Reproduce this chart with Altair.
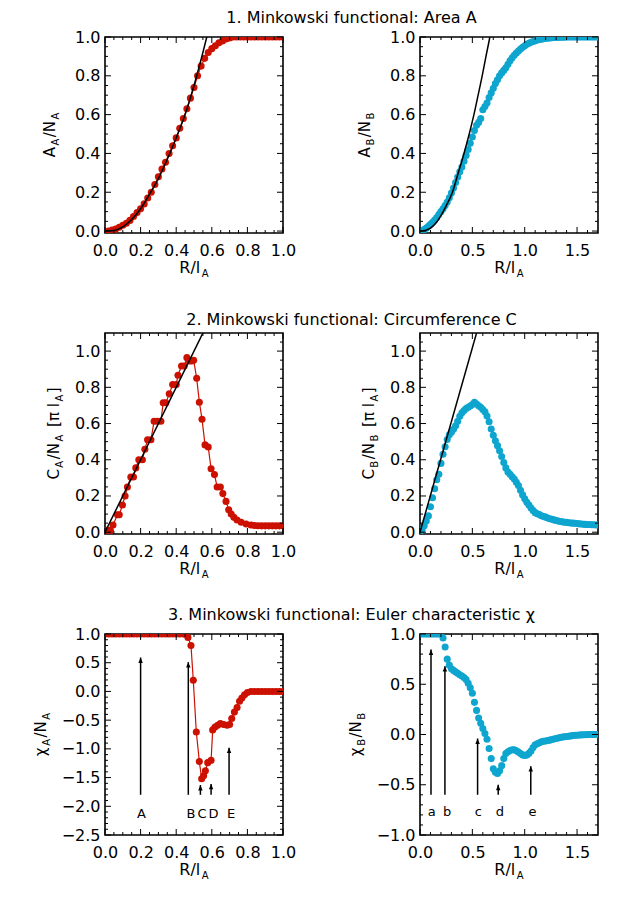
import altair as alt
import pandas as pd

RED = "#cc1100"
BLUE = "#0ea5cf"
FONT = "DejaVu Sans"

# ---------------- data ----------------
# Row 1 left: area functional, sample A (red)
area_a_x = [round(0.02 * i, 2) for i in range(51)]
area_a_y = [
    -0.005, 0.0, 0.005, 0.01, 0.02, 0.03, 0.04, 0.055, 0.075, 0.095,
    0.115, 0.14, 0.17, 0.20, 0.24, 0.28, 0.32, 0.355, 0.40, 0.44,
    0.48, 0.53, 0.58, 0.63, 0.685, 0.74, 0.80, 0.85, 0.89, 0.92,
    0.94, 0.955, 0.97, 0.98, 0.99, 0.995, 1.0, 1.0, 1.0, 1.0,
    1.0, 1.0, 1.0, 1.0, 1.0, 1.0, 1.0, 1.0, 1.0, 1.0,
    1.0,
]
area_a_curve_x = [0.0, 0.05, 0.1, 0.15, 0.2, 0.25, 0.3, 0.35, 0.4, 0.45, 0.5, 0.55, 0.58]
area_a_curve_y = [0.0, 0.003, 0.022, 0.06, 0.115, 0.19, 0.27, 0.37, 0.48, 0.6, 0.75, 0.92, 1.03]

# Row 1 right: area functional, sample B (blue), sampled every 0.02
blue_x = [round(0.02 * i, 2) for i in range(86)]
area_b_y = [
    0.000, 0.002, 0.008, 0.015, 0.025, 0.035, 0.045, 0.057, 0.070, 0.085,
    0.100, 0.115, 0.132, 0.150, 0.172, 0.196, 0.222, 0.250, 0.278, 0.305,
    0.330, 0.360, 0.390, 0.420, 0.452, 0.485, 0.518, 0.545, 0.560, 0.580,
    0.625, 0.642, 0.660, 0.688, 0.712, 0.736, 0.760, 0.780, 0.800, 0.815,
    0.828, 0.842, 0.860, 0.878, 0.893, 0.906, 0.918, 0.928, 0.938, 0.947,
    0.955, 0.962, 0.968, 0.973, 0.977, 0.981, 0.984, 0.987, 0.989, 0.991,
    0.993, 0.994, 0.995, 0.996, 0.997, 0.998, 0.998, 0.999, 0.999, 0.999,
    1.0, 1.0, 1.0, 1.0, 1.0, 1.0, 1.0, 1.0, 1.0, 1.0,
    1.0, 1.0, 1.0, 1.0, 1.0, 1.0,
]
area_b_curve_x = [0.0, 0.05, 0.1, 0.15, 0.2, 0.25, 0.31, 0.36, 0.42, 0.47, 0.515, 0.555, 0.594, 0.63, 0.667, 0.68]
area_b_curve_y = [0.0, 0.003, 0.015, 0.04, 0.08, 0.13, 0.2, 0.29, 0.4, 0.5, 0.6, 0.7, 0.8, 0.9, 1.0, 1.04]

# Row 2 left: circumference, sample A (red)
circ_a_x = [
    0.01, 0.03, 0.045, 0.07, 0.08, 0.098, 0.113, 0.126, 0.145, 0.16,
    0.173, 0.19, 0.21, 0.224, 0.239, 0.258, 0.276, 0.295, 0.314, 0.327,
    0.342, 0.361, 0.38, 0.40, 0.41, 0.43, 0.445, 0.46, 0.474, 0.487,
    0.498, 0.515, 0.53, 0.545, 0.562, 0.58, 0.596, 0.615, 0.63, 0.648,
    0.662, 0.68, 0.695, 0.709, 0.724, 0.742, 0.765, 0.793, 0.82, 0.84,
    0.86, 0.88, 0.90, 0.92, 0.94, 0.96, 0.98, 1.0,
]
circ_a_y = [
    0.01, 0.01, 0.04, 0.096, 0.096, 0.15, 0.2, 0.25, 0.305, 0.305,
    0.355, 0.40, 0.40, 0.458, 0.51, 0.51, 0.613, 0.613, 0.613, 0.715,
    0.715, 0.764, 0.815, 0.815, 0.867, 0.918, 0.918, 0.964, 0.945, 0.945,
    0.95, 0.85, 0.718, 0.624, 0.482, 0.47, 0.35, 0.318, 0.25, 0.25,
    0.213, 0.17, 0.124, 0.1, 0.082, 0.067, 0.055, 0.045, 0.04, 0.037,
    0.036, 0.035, 0.035, 0.035, 0.035, 0.035, 0.035, 0.035,
]
circ_a_curve_x = [0.0, 0.56]
circ_a_curve_y = [0.0, 1.12]

# Row 2 right: circumference, sample B (blue)
circ_b_y = [
    0.000, 0.015, 0.036, 0.062, 0.090, 0.140, 0.190, 0.240, 0.290, 0.320,
    0.380, 0.430, 0.472, 0.512, 0.538, 0.552, 0.568, 0.588, 0.612, 0.640,
    0.660, 0.672, 0.683, 0.690, 0.697, 0.705, 0.718, 0.708, 0.698, 0.690,
    0.678, 0.665, 0.642, 0.610, 0.570, 0.535, 0.505, 0.478, 0.450, 0.418,
    0.385, 0.355, 0.332, 0.320, 0.306, 0.294, 0.276, 0.258, 0.232, 0.206,
    0.185, 0.165, 0.150, 0.133, 0.120, 0.108, 0.102, 0.097, 0.091, 0.087,
    0.083, 0.078, 0.074, 0.071, 0.068, 0.065, 0.062, 0.059, 0.057, 0.055,
    0.054, 0.052, 0.051, 0.050, 0.049, 0.048, 0.046, 0.045, 0.044, 0.043,
    0.042, 0.042, 0.041, 0.041, 0.040, 0.040,
]
circ_b_curve_x = [0.0, 0.55]
circ_b_curve_y = [0.0, 1.12]

# Row 3 left: Euler characteristic, sample A (red)
euler_a_x = [
    0.00, 0.02, 0.04, 0.06, 0.08, 0.10, 0.12, 0.14, 0.16, 0.18,
    0.20, 0.22, 0.24, 0.26, 0.28, 0.30, 0.32, 0.34, 0.36, 0.38,
    0.40, 0.42, 0.44, 0.455, 0.466, 0.483, 0.496, 0.513, 0.53, 0.543,
    0.554, 0.564, 0.577, 0.596, 0.605, 0.618, 0.633, 0.648, 0.667, 0.686,
    0.70, 0.712, 0.727, 0.742, 0.756, 0.769, 0.784, 0.80, 0.82, 0.84,
    0.86, 0.88, 0.90, 0.92, 0.94, 0.96, 0.98, 1.0,
]
euler_a_y = [
    1.0, 1.0, 1.0, 1.0, 1.0, 1.0, 1.0, 1.0, 1.0, 1.0,
    1.0, 1.0, 1.0, 1.0, 1.0, 1.0, 1.0, 1.0, 1.0, 1.0,
    1.0, 1.0, 1.0, 0.99, 0.94, 0.80, 0.195, -0.707, -1.22, -1.52,
    -1.47, -1.38, -1.24, -1.2, -0.67, -0.62, -0.59, -0.56, -0.575, -0.59,
    -0.575, -0.47, -0.36, -0.28, -0.17, -0.115, -0.06, -0.02, 0.0, 0.0,
    0.0, 0.0, 0.0, 0.0, 0.0, 0.0, 0.0, 0.0,
]
euler_a_arrow_x = [0.2, 0.468, 0.536, 0.596, 0.697]
euler_a_arrow_tip = [0.59, 0.51, -1.63, -1.61, -0.98]
euler_a_arrow_base = -1.8
euler_a_labels = ["A", "B", "C", "D", "E"]
euler_a_label_x = [0.205, 0.483, 0.545, 0.61, 0.709]
euler_a_label_y = -2.13

# Row 3 right: Euler characteristic, sample B (blue)
euler_b_y = [
    1.0, 1.0, 1.0, 1.0, 1.0, 1.0, 1.0, 1.0, 1.0, 1.0,
    1.0, 0.96, 0.87, 0.75, 0.69, 0.655, 0.638, 0.623, 0.609, 0.595,
    0.582, 0.568, 0.547, 0.510, 0.465, 0.410, 0.320, 0.240, 0.165, 0.112,
    0.060, 0.010, -0.048, -0.140, -0.240, -0.340, -0.375, -0.387, -0.360, -0.310,
    -0.240, -0.190, -0.172, -0.160, -0.152, -0.152, -0.162, -0.175, -0.190, -0.203,
    -0.208, -0.205, -0.188, -0.165, -0.130, -0.103, -0.092, -0.082, -0.073, -0.068,
    -0.064, -0.060, -0.056, -0.050, -0.044, -0.039, -0.034, -0.030, -0.026, -0.023,
    -0.020, -0.017, -0.014, -0.011, -0.008, -0.007, -0.005, -0.004, -0.003, -0.002,
    -0.001, 0.0, 0.0, 0.0, 0.0, 0.0,
]
euler_b_arrow_x = [0.105, 0.238, 0.55, 0.747, 1.058]
euler_b_arrow_tip = [0.845, 0.68, -0.04, -0.5, -0.315]
euler_b_arrow_base = -0.6
euler_b_labels = ["a", "b", "c", "d", "e"]
euler_b_label_x = [0.111, 0.26, 0.556, 0.763, 1.074]
euler_b_label_y = -0.77

row_titles = [
    "1. Minkowski functional: Area A",
    "2. Minkowski functional: Circumference C",
    "3. Minkowski functional: Euler characteristic \u03c7",
]

# ticks
x_left_major = [0.0, 0.2, 0.4, 0.6, 0.8, 1.0]
x_left_minor = [round(0.05 * i, 2) for i in range(1, 20) if i % 4]
x_right_major = [0.0, 0.5, 1.0, 1.5]
x_right_minor = [round(0.1 * i, 1) for i in range(1, 17) if i % 5]
y1_major = [0.0, 0.2, 0.4, 0.6, 0.8, 1.0]
y1_minor = [round(0.05 * i, 2) for i in range(1, 20) if i % 4]
y2_minor = [round(0.05 * i, 2) for i in range(1, 22) if i % 4]
y3a_major = [-2.5, -2.0, -1.5, -1.0, -0.5, 0.0, 0.5, 1.0]
y3a_minor = [round(-2.5 + 0.1 * i, 1) for i in range(1, 35) if i % 5]
y3b_major = [-1.0, -0.5, 0.0, 0.5, 1.0]
y3b_minor = [round(-1.0 + 0.1 * i, 1) for i in range(1, 20) if i % 5]

# ---------------- helpers ----------------
W = 178
H1, H = 196, 201
HGAP, VGAP = 137, 100
MAJ, MIN = 6, 3
ONE = pd.DataFrame({"k": [0]})
DVW = {"A": 0.684, "B": 0.686, "C": 0.698, "N": 0.748, "R": 0.695, "l": 0.278,
       "/": 0.337, "[": 0.390, "]": 0.390, " ": 0.318, "\u03c0": 0.602, "\u03c7": 0.592}


def tw(s, size):
    return sum(DVW.get(c, 0.6) for c in s) * size


def txt(t, x, y, size, angle=0, align="left", baseline="alphabetic"):
    return alt.Chart(ONE).mark_text(
        text=t, font=FONT, fontSize=size, angle=angle, align=align,
        baseline=baseline, color="black"
    ).encode(x=alt.value(x), y=alt.value(y))


def seg_title(segs, vertical, base, center, size=15, sub=10, gap=1.5, shift=4):
    def seg_w(t, s):
        if t is None:
            return 0.318 * size
        return tw(t, sub if s else size)
    total = sum(seg_w(t, s) + gap for t, s in segs) - gap
    out = []
    pos = center + total / 2 if vertical else center - total / 2
    for t, s in segs:
        w = seg_w(t, s)
        if t is not None:
            fs = sub if s else size
            off = shift if s else 0
            if vertical:
                out.append(txt(t, base + off, pos, fs, angle=270))
            else:
                out.append(txt(t, pos, base + off, fs))
        pos = pos - (w + gap) if vertical else pos + (w + gap)
    return out


def panel(px, py, color, xdom, ydom, xmaj, xmin, ymaj, ymin, ysegs, ytx, h=H,
          line=True, curve=None, arrows=None, row_title=None, title_dy=-8):
    xs = alt.Scale(domain=xdom, nice=False, zero=False)
    ys = alt.Scale(domain=ydom, nice=False, zero=False)
    xaxis = alt.Axis(values=xmaj, format=".1f", title=None, domain=False, ticks=False,
                     tickSize=0, grid=False, labelPadding=9, labelFlush=False,
                     labelOverlap=False, labelFontSize=16, labelFont=FONT, labelColor="black")
    yaxis = alt.Axis(values=ymaj, format=".1f", title=None, domain=False, ticks=False,
                     tickSize=0, grid=False, labelPadding=5, labelFlush=False,
                     labelOverlap=False, labelFontSize=16, labelFont=FONT, labelColor="black")

    def X(f):
        return alt.X(f, scale=xs, axis=xaxis)

    def Y(f):
        return alt.Y(f, scale=ys, axis=yaxis)

    df = pd.DataFrame({"x": px, "y": py})
    layers = []
    if line:
        layers.append(alt.Chart(df).mark_line(color=color, strokeWidth=1.2, clip=True).encode(
            x=X("x:Q"), y=Y("y:Q")))
    layers.append(alt.Chart(df).mark_circle(color=color, size=50, opacity=1, clip=True).encode(
        x=X("x:Q"), y=Y("y:Q")))
    if curve is not None:
        cdf = pd.DataFrame({"x": curve[0], "y": curve[1]})
        layers.append(alt.Chart(cdf).mark_line(color="black", strokeWidth=1.5, clip=True,
                                               interpolate="monotone").encode(
            x=X("x:Q"), y=Y("y:Q")))
    if arrows is not None:
        ax, tip, base, labs, lx, ly = arrows
        adf = pd.DataFrame({"x": ax, "tip": tip, "base": [base] * len(ax)})
        ldf = pd.DataFrame({"x": lx, "y": [ly] * len(lx), "t": labs})
        layers.append(alt.Chart(adf).mark_rule(color="black", strokeWidth=1.5).encode(
            x=X("x:Q"), y=Y("base:Q"), y2="tip:Q"))
        layers.append(alt.Chart(adf).mark_point(shape="M0,0L-0.7,1.7L0.7,1.7Z", filled=True,
                                                color="black", opacity=1, size=40).encode(
            x=X("x:Q"), y=Y("tip:Q")))
        layers.append(alt.Chart(ldf).mark_text(font=FONT, fontSize=13, color="black",
                                               align="center", baseline="middle").encode(
            x=X("x:Q"), y=Y("y:Q"), text="t:N"))
    # inward IDL-style ticks on all four sides
    for side, vals, ln in [("bottom", xmaj, MAJ), ("top", xmaj, MAJ), ("bottom", xmin, MIN),
                           ("top", xmin, MIN), ("left", ymaj, MAJ), ("right", ymaj, MAJ),
                           ("left", ymin, MIN), ("right", ymin, MIN)]:
        c = alt.Chart(pd.DataFrame({"v": vals})).mark_rule(color="black", strokeWidth=1)
        if side == "bottom":
            c = c.encode(x=X("v:Q"), y=alt.value(h), y2=alt.value(h - ln))
        elif side == "top":
            c = c.encode(x=X("v:Q"), y=alt.value(0), y2=alt.value(ln))
        elif side == "left":
            c = c.encode(y=Y("v:Q"), x=alt.value(0), x2=alt.value(ln))
        else:
            c = c.encode(y=Y("v:Q"), x=alt.value(W), x2=alt.value(W - ln))
        layers.append(c)
    layers += seg_title([("R/l", 0), ("A", 1)], False, h + 40, W / 2, size=16)
    layers += seg_title(ysegs, True, ytx, h / 2)
    if row_title is not None:
        layers.append(txt(row_title, W + HGAP / 2, title_dy, 16, align="center"))
    return alt.layer(*layers).properties(width=W, height=h)


seg_ab = lambda m, s: [(m, 0), (s, 1), ("/N", 0), (s, 1)]
seg_c = lambda s: [("C", 0), (s, 1), ("/N", 0), (s, 1), (None, 0), ("[\u03c0 l", 0), ("A", 1), ("]", 0)]
seg_x = lambda s: [("\u03c7", 0), (s, 1), ("/N", 0), (s, 1)]

p1l = panel(area_a_x, area_a_y, RED, [0, 1], [-0.01, 1.0], x_left_major, x_left_minor,
            y1_major, y1_minor, seg_ab("A", "A"), -50, h=H1,
            curve=(area_a_curve_x, area_a_curve_y), row_title=row_titles[0], title_dy=-14)
p1r = panel(blue_x, area_b_y, BLUE, [0, 1.7], [-0.01, 1.0], x_right_major, x_right_minor,
            y1_major, y1_minor, seg_ab("A", "B"), -50, h=H1, line=False,
            curve=(area_b_curve_x, area_b_curve_y))
p2l = panel(circ_a_x, circ_a_y, RED, [0, 1], [-0.01, 1.1], x_left_major, x_left_minor,
            y1_major, y2_minor, seg_c("A"), -46,
            curve=(circ_a_curve_x, circ_a_curve_y), row_title=row_titles[1], title_dy=-8)
p2r = panel(blue_x, circ_b_y, BLUE, [0, 1.7], [-0.01, 1.1], x_right_major, x_right_minor,
            y1_major, y2_minor, seg_c("B"), -46, line=False,
            curve=(circ_b_curve_x, circ_b_curve_y))
p3l = panel(euler_a_x, euler_a_y, RED, [0, 1], [-2.5, 1.0], x_left_major, x_left_minor,
            y3a_major, y3a_minor, seg_x("A"), -59,
            arrows=(euler_a_arrow_x, euler_a_arrow_tip, euler_a_arrow_base,
                    euler_a_labels, euler_a_label_x, euler_a_label_y),
            row_title=row_titles[2], title_dy=-14)
p3r = panel(blue_x, euler_b_y, BLUE, [0, 1.7], [-1.0, 1.0], x_right_major, x_right_minor,
            y3b_major, y3b_minor, seg_x("B"), -59, line=False,
            arrows=(euler_b_arrow_x, euler_b_arrow_tip, euler_b_arrow_base,
                    euler_b_labels, euler_b_label_x, euler_b_label_y))

chart = alt.concat(
    p1l, p1r, p2l, p2r, p3l, p3r, columns=2, bounds="flush",
    spacing={"row": VGAP, "column": HGAP},
).properties(
    padding={"left": 25, "top": 1, "right": 6, "bottom": 6}, background="white"
).configure(font=FONT).configure_view(stroke="black", strokeWidth=1.6)

chart.save("out.html", embed_options={"renderer": "svg", "actions": False})
